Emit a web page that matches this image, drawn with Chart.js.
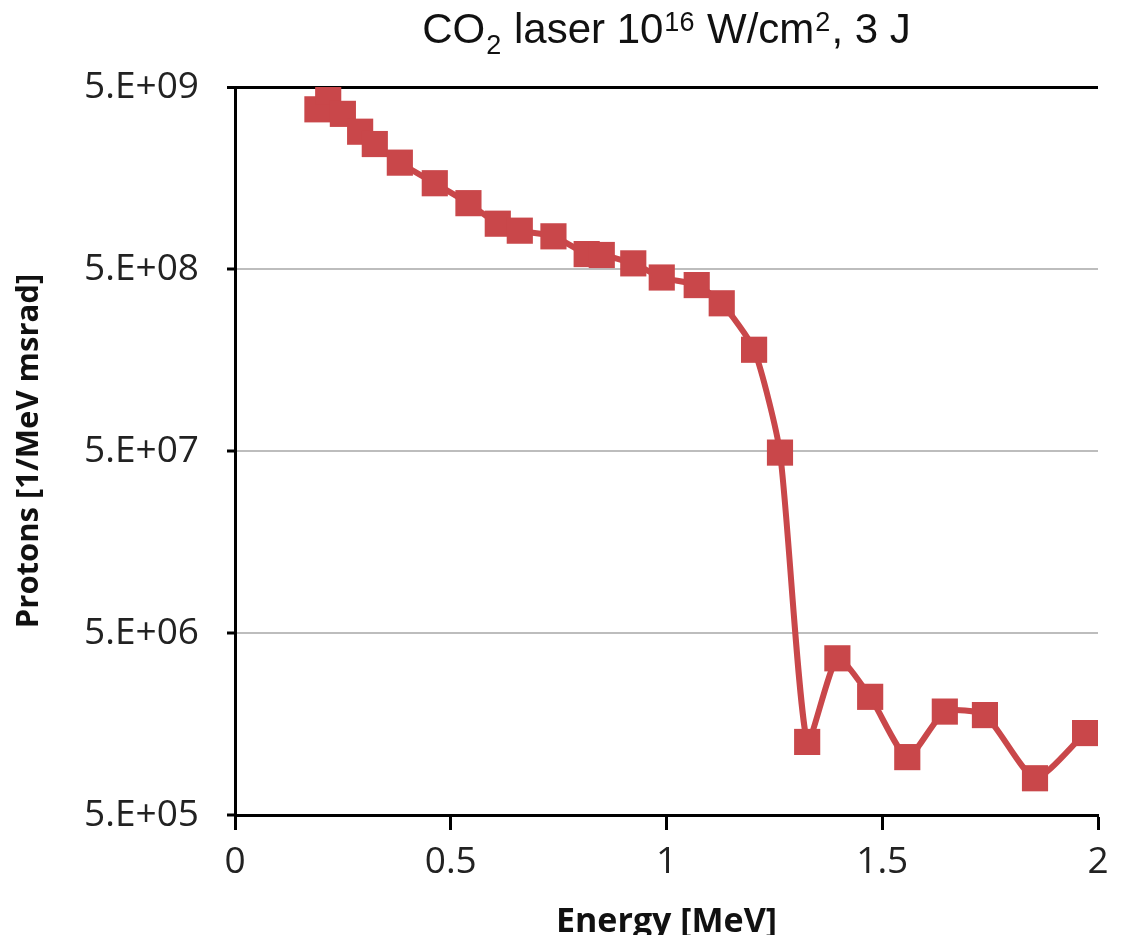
<!DOCTYPE html>
<html>
<head>
<meta charset="utf-8">
<script src="https://cdn.jsdelivr.net/npm/chart.js@4"></script>
<style>
  html, body { margin: 0; padding: 0; background: #fff; }
  #wrap { width: 1125px; height: 935px; }
</style>
</head>
<body>
<div id="wrap"><canvas id="protonChart"></canvas></div>
<script>
// Espectro de protones
var energia = [0.191, 0.216, 0.250, 0.290, 0.324, 0.382, 0.463, 0.541, 0.609, 0.660,
               0.738, 0.815, 0.850, 0.923, 0.989, 1.070, 1.128, 1.203, 1.263, 1.326,
               1.396, 1.472, 1.558, 1.645, 1.738, 1.854, 1.970];
var protones = [3.77e9, 4.7e9, 3.56e9, 2.84e9, 2.43e9, 1.92e9, 1.48e9, 1.15e9, 8.87e8, 8.12e8,
                7.56e8, 6.04e8, 5.97e8, 5.37e8, 4.49e8, 4.08e8, 3.24e8, 1.80e8, 4.9e7, 1.26e6,
                3.63e6, 2.23e6, 1.04e6, 1.85e6, 1.77e6, 7.96e5, 1.41e6];

// Ticks de los ejes
var ticksY = [5e5, 5e6, 5e7, 5e8, 5e9];
var etiquetasY = ['5.E+05', '5.E+06', '5.E+07', '5.E+08', '5.E+09'];
var ticksX = [0, 0.5, 1, 1.5, 2];

var rojo = '#c9474a';
var fuenteTicks = 'Open Sans';

// Titulo con subindice y superindices
var tituloPartes = [
    { t: 'CO', s: 0 },
    { t: '2', s: 1 },
    { t: ' laser 10', s: 0 },
    { t: '16', s: -1 },
    { t: ' W/cm', s: 0 },
    { t: '2', s: -1 },
    { t: ', 3 J', s: 0 }
];

var tituloPlugin = {
    id: 'tituloPlugin',
    afterDraw: function(chart) {
        var ctx = chart.ctx;
        var size = 42;
        var small = 27;
        ctx.save();
        ctx.fillStyle = '#111';
        ctx.textBaseline = 'alphabetic';
        var total = 0;
        tituloPartes.forEach(function(p) {
            ctx.font = (p.s === 0 ? size : small) + 'px "Liberation Sans", Arial, sans-serif';
            p.w = ctx.measureText(p.t).width + (p.s === 0 ? 0 : 2);
            total += p.w;
        });
        var area = chart.chartArea;
        var x = (area.left + area.right) / 2 - total / 2;
        var base = 43;
        tituloPartes.forEach(function(p) {
            ctx.font = (p.s === 0 ? size : small) + 'px "Liberation Sans", Arial, sans-serif';
            var dy = p.s === 1 ? 11 : (p.s === -1 ? -12 : 0);
            ctx.fillText(p.t, x + (p.s === 0 ? 0 : 1), base + dy);
            x += p.w;
        });
        ctx.restore();
    }
};

var ctx = document.getElementById('protonChart').getContext('2d');

var protonChart = new Chart(ctx, {
    type: 'line',
    data: {
        datasets: [{
            label: 'Protons',
            data: energia.map(function(e, i) { return { x: e, y: protones[i] }; }),
            borderColor: rojo,
            backgroundColor: rojo,
            borderWidth: 6,
            pointStyle: 'rect',
            pointRadius: 18.5,
            pointHoverRadius: 18.5,
            pointBorderWidth: 0,
            tension: 0.2
        }]
    },
    options: {
        responsive: true,
        maintainAspectRatio: false,
        animation: false,
        layout: { padding: { top: 87, right: 27, bottom: 0, left: 0 } },
        plugins: {
            legend: { display: false },
            tooltip: { enabled: false },
            title: { display: false }
        },
        scales: {
            x: {
                type: 'linear',
                min: 0,
                max: 2,
                afterBuildTicks: function(scale) {
                    scale.ticks = ticksX.map(function(v) { return { value: v }; });
                },
                afterFit: function(scale) { scale.height = 120; },
                border: { color: '#000', width: 3 },
                grid: {
                    drawOnChartArea: false,
                    drawTicks: true,
                    tickLength: 15,
                    tickColor: '#000',
                    tickWidth: 3
                },
                ticks: {
                    color: '#222',
                    padding: 10,
                    maxRotation: 0,
                    font: { family: fuenteTicks, size: 37 },
                    callback: function(v) { return String(v); }
                },
                title: {
                    display: true,
                    text: 'Energy [MeV]',
                    color: '#111',
                    font: { family: fuenteTicks, size: 34, weight: 'bold' },
                    padding: { top: 0, bottom: -8 }
                }
            },
            y: {
                type: 'logarithmic',
                min: 5e5,
                max: 5e9,
                afterBuildTicks: function(scale) {
                    scale.ticks = ticksY.map(function(v) { return { value: v }; });
                },
                afterFit: function(scale) { scale.width = 235; },
                border: { color: '#000', width: 3 },
                grid: {
                    color: function(c) {
                        if (c.tick && c.tick.value === 5e9) return '#000';
                        return '#bdbdbd';
                    },
                    lineWidth: function(c) {
                        if (c.tick && c.tick.value === 5e9) return 3;
                        return 2;
                    },
                    tickColor: '#000',
                    tickLength: 8,
                    tickWidth: 3
                },
                ticks: {
                    color: '#222',
                    padding: 28,
                    font: { family: fuenteTicks, size: 37 },
                    callback: function(v, i) { return etiquetasY[ticksY.indexOf(v)]; }
                },
                title: {
                    display: true,
                    text: 'Protons [1/MeV msrad]',
                    color: '#111',
                    font: { family: fuenteTicks, size: 31, weight: 'bold' },
                    padding: { top: 11, bottom: 0 }
                }
            }
        }
    },
    plugins: [tituloPlugin]
});
</script>
</body>
</html>
